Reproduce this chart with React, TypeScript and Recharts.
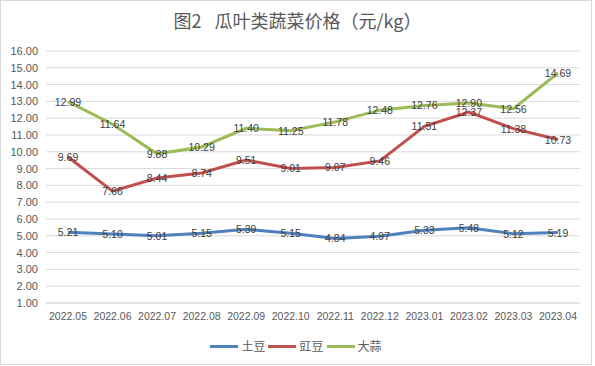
import { LineChart, Line, XAxis, YAxis, CartesianGrid, LabelList } from "recharts";

const months = [
  "2022.05", "2022.06", "2022.07", "2022.08", "2022.09", "2022.10",
  "2022.11", "2022.12", "2023.01", "2023.02", "2023.03", "2023.04",
];
const potato = [5.21, 5.1, 5.01, 5.15, 5.39, 5.15, 4.84, 4.97, 5.33, 5.48, 5.12, 5.19];
const cowpea = [9.69, 7.66, 8.44, 8.74, 9.51, 9.01, 9.07, 9.46, 11.51, 12.37, 11.38, 10.73];
const garlic = [12.99, 11.64, 9.88, 10.29, 11.4, 11.25, 11.78, 12.48, 12.76, 12.9, 12.56, 14.69];
const yTicks = [1, 2, 3, 4, 5, 6, 7, 8, 9, 10, 11, 12, 13, 14, 15, 16];

const data = months.map((m, i) => ({
  month: m,
  potato: potato[i],
  cowpea: cowpea[i],
  garlic: garlic[i],
}));

const series = [
  { key: "potato", name: "土豆", color: "#4F81BD" },
  { key: "cowpea", name: "豇豆", color: "#C0504D" },
  { key: "garlic", name: "大蒜", color: "#9BBB59" },
];

const FONT = "'Liberation Sans', 'Noto Sans CJK SC', sans-serif";
const CJK = "'Noto Sans CJK SC', sans-serif";

const CenterLabel = (props: any) => {
  const { x, y, value } = props;
  return (
    <text
      x={x}
      y={y}
      textAnchor="middle"
      dominantBaseline="central"
      fontSize={10.5}
      fontFamily={FONT}
      fill="#404040"
    >
      {Number(value).toFixed(2)}
    </text>
  );
};

export default function App() {
  return (
    <div
      style={{
        position: "absolute",
        left: 0,
        top: 0,
        width: 595,
        height: 366,
        background: "#fff",
      }}
    >
      <div
        style={{
          position: "absolute",
          left: 0,
          top: 0,
          width: 590,
          height: 363,
          border: "1px solid #d9d9d9",
        }}
      />
      <div
        style={{
          position: "absolute",
          left: 0,
          top: 8,
          width: 595,
          textAlign: "center",
          fontFamily: CJK,
          fontSize: 18,
          color: "#595959",
          lineHeight: "24px",
        }}
      >
        图2<span style={{ display: "inline-block", width: 13 }} />瓜叶类蔬菜价格（元/kg）
      </div>
      <div style={{ position: "absolute", left: 0, top: 0 }}>
        <LineChart
          width={595}
          height={366}
          data={data}
          margin={{ top: 51, right: 15, bottom: 33, left: 0 }}
        >
          <CartesianGrid vertical={false} stroke="#d9d9d9" />
          <XAxis
            dataKey="month"
            height={30}
            padding={{ left: 22, right: 22 }}
            axisLine={{ stroke: "#d9d9d9" }}
            tickLine={false}
            tickMargin={4}
            tick={{ fontSize: 10.5, fill: "#595959", fontFamily: FONT }}
            interval={0}
          />
          <YAxis
            width={46}
            domain={[1, 16]}
            ticks={yTicks}
            tickFormatter={(v: number) => v.toFixed(2)}
            axisLine={false}
            tickLine={false}
            tickMargin={2}
            tick={{ fontSize: 11, fill: "#595959", fontFamily: FONT }}
            interval={0}
          />
          {series.map((s) => (
            <Line
              key={s.key}
              dataKey={s.key}
              name={s.name}
              stroke={s.color}
              strokeWidth={3}
              dot={false}
              isAnimationActive={false}
            >
              <LabelList dataKey={s.key} content={CenterLabel} />
            </Line>
          ))}
        </LineChart>
      </div>
      <div
        style={{
          position: "absolute",
          left: 0,
          top: 337,
          width: 595,
          display: "flex",
          justifyContent: "center",
          alignItems: "center",
          fontFamily: CJK,
          fontSize: 12,
          color: "#595959",
          lineHeight: "18px",
        }}
      >
        {series.map((s) => (
          <div key={s.key} style={{ display: "flex", alignItems: "center", marginRight: 3 }}>
            <span
              style={{ display: "inline-block", width: 28, height: 3, background: s.color, marginRight: 3 }}
            />
            <span>{s.name}</span>
          </div>
        ))}
      </div>
    </div>
  );
}
